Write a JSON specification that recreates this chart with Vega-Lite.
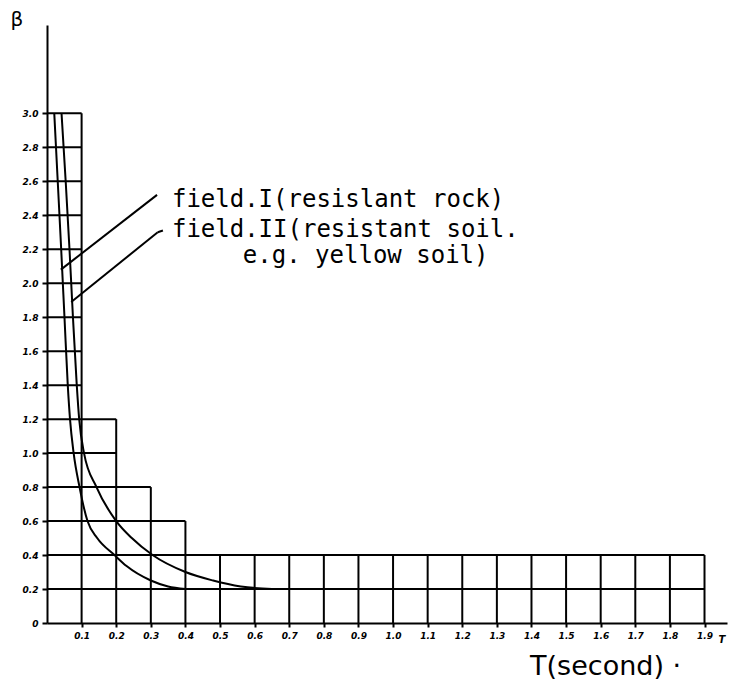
{
  "$schema": "https://vega.github.io/schema/vega-lite/v6.json",
  "width": 680,
  "height": 598,
  "autosize": {"type": "none"},
  "padding": {"left": 47, "top": 25, "right": 6, "bottom": 57},
  "background": "white",
  "config": {"view": {"stroke": null}, "axis": {"labelOverlap": false, "labelBound": false, "labelFlush": false, "title": null}},
  "datasets": {
    "vlines": [
      {"x": 0.1, "top": 3.0}, {"x": 0.2, "top": 1.2}, {"x": 0.3, "top": 0.8}, {"x": 0.4, "top": 0.6},
      {"x": 0.5, "top": 0.4}, {"x": 0.6, "top": 0.4}, {"x": 0.7, "top": 0.4}, {"x": 0.8, "top": 0.4},
      {"x": 0.9, "top": 0.4}, {"x": 1.0, "top": 0.4}, {"x": 1.1, "top": 0.4}, {"x": 1.2, "top": 0.4},
      {"x": 1.3, "top": 0.4}, {"x": 1.4, "top": 0.4}, {"x": 1.5, "top": 0.4}, {"x": 1.6, "top": 0.4},
      {"x": 1.7, "top": 0.4}, {"x": 1.8, "top": 0.4}, {"x": 1.9, "top": 0.4}
    ],
    "hlines": [
      {"y": 0.2, "xend": 1.9}, {"y": 0.4, "xend": 1.9}, {"y": 0.6, "xend": 0.4}, {"y": 0.8, "xend": 0.3},
      {"y": 1.0, "xend": 0.2}, {"y": 1.2, "xend": 0.2}, {"y": 1.4, "xend": 0.1}, {"y": 1.6, "xend": 0.1},
      {"y": 1.8, "xend": 0.1}, {"y": 2.0, "xend": 0.1}, {"y": 2.2, "xend": 0.1}, {"y": 2.4, "xend": 0.1},
      {"y": 2.6, "xend": 0.1}, {"y": 2.8, "xend": 0.1}, {"y": 3.0, "xend": 0.1}
    ],
    "curves": [
      {"field": "I", "x": 0.021, "y": 3.0}, {"field": "I", "x": 0.031, "y": 2.6}, {"field": "I", "x": 0.041, "y": 2.2},
      {"field": "I", "x": 0.0505, "y": 1.8}, {"field": "I", "x": 0.06, "y": 1.4}, {"field": "I", "x": 0.0665, "y": 1.2},
      {"field": "I", "x": 0.077, "y": 1.0}, {"field": "I", "x": 0.094, "y": 0.8}, {"field": "I", "x": 0.117, "y": 0.6},
      {"field": "I", "x": 0.145, "y": 0.5}, {"field": "I", "x": 0.195, "y": 0.4}, {"field": "I", "x": 0.23, "y": 0.335},
      {"field": "I", "x": 0.3, "y": 0.25}, {"field": "I", "x": 0.35, "y": 0.215}, {"field": "I", "x": 0.4, "y": 0.2},
      {"field": "II", "x": 0.042, "y": 3.0}, {"field": "II", "x": 0.054, "y": 2.6}, {"field": "II", "x": 0.065, "y": 2.2},
      {"field": "II", "x": 0.075, "y": 1.8}, {"field": "II", "x": 0.086, "y": 1.4}, {"field": "II", "x": 0.093, "y": 1.2},
      {"field": "II", "x": 0.107, "y": 1.0}, {"field": "II", "x": 0.143, "y": 0.8}, {"field": "II", "x": 0.2, "y": 0.6},
      {"field": "II", "x": 0.245, "y": 0.5}, {"field": "II", "x": 0.305, "y": 0.4}, {"field": "II", "x": 0.4, "y": 0.3},
      {"field": "II", "x": 0.48, "y": 0.25}, {"field": "II", "x": 0.56, "y": 0.215}, {"field": "II", "x": 0.65, "y": 0.2}
    ],
    "leaders": [
      {"x": 0.318, "y": 2.52, "x2": 0.04, "y2": 2.08},
      {"x": 0.335, "y": 2.31, "x2": 0.32, "y2": 2.3},
      {"x": 0.32, "y": 2.3, "x2": 0.07, "y2": 1.89}
    ],
    "notes": [
      {"x": 0.361, "y": 2.447, "label": "field.I(resislant rock)"},
      {"x": 0.361, "y": 2.27, "label": "field.II(resistant soil."},
      {"x": 0.566, "y": 2.118, "label": "e.g. yellow soil)"}
    ],
    "titles": [
      {"x": 1.396, "y": -0.306, "label": "T(second) ·"}
    ],
    "beta": [
      {"x": -0.087, "y": 3.55, "label": "β"}
    ],
    "tlabel": [
      {"x": 1.95, "y": -0.1, "label": "T"}
    ]
  },
  "layer": [
    {
      "data": {"name": "vlines"},
      "mark": {"type": "rule", "color": "black", "strokeWidth": 2},
      "encoding": {
        "x": {
          "field": "x", "type": "quantitative",
          "scale": {"domain": [0, 1.965], "nice": false, "zero": false},
          "axis": {
            "title": null, "grid": false, "tickCount": 40,
            "values": [0.1, 0.2, 0.3, 0.4, 0.5, 0.6, 0.7, 0.8, 0.9, 1.0, 1.1, 1.2, 1.3, 1.4, 1.5, 1.6, 1.7, 1.8, 1.9],
            "format": ".1f", "labelOverlap": false,
            "domainColor": "black", "domainWidth": 2,
            "tickColor": "black", "tickWidth": 2, "tickSize": 4,
            "labelFont": "DejaVu Sans", "labelFontSize": 9, "labelFontWeight": "bold", "labelFontStyle": "italic",
            "labelColor": "black", "labelPadding": 4
          }
        },
        "y": {
          "field": "top", "type": "quantitative",
          "scale": {"domain": [0, 3.52], "nice": false, "zero": false},
          "axis": {
            "title": null, "grid": false, "tickCount": 40,
            "values": [0, 0.2, 0.4, 0.6, 0.8, 1.0, 1.2, 1.4, 1.6, 1.8, 2.0, 2.2, 2.4, 2.6, 2.8, 3.0],
            "labelExpr": "datum.value == 0 ? '0' : format(datum.value, '.1f')",
            "labelOverlap": false,
            "domainColor": "black", "domainWidth": 2,
            "tickColor": "black", "tickWidth": 2, "tickSize": 5,
            "labelFont": "DejaVu Sans", "labelFontSize": 9, "labelFontWeight": "bold", "labelFontStyle": "italic",
            "labelColor": "black", "labelPadding": 4
          }
        },
        "y2": {"datum": 0}
      }
    },
    {
      "data": {"name": "hlines"},
      "mark": {"type": "rule", "color": "black", "strokeWidth": 2},
      "encoding": {
        "x": {"field": "xend", "type": "quantitative"},
        "x2": {"datum": 0},
        "y": {"field": "y", "type": "quantitative"}
      }
    },
    {
      "data": {"name": "curves"},
      "mark": {"type": "line", "color": "black", "strokeWidth": 2, "interpolate": "monotone"},
      "encoding": {
        "x": {"field": "x", "type": "quantitative"},
        "y": {"field": "y", "type": "quantitative"},
        "detail": {"field": "field", "type": "nominal"},
        "order": {"field": "x", "type": "quantitative"}
      }
    },
    {
      "data": {"name": "leaders"},
      "mark": {"type": "rule", "color": "black", "strokeWidth": 2},
      "encoding": {
        "x": {"field": "x", "type": "quantitative"},
        "y": {"field": "y", "type": "quantitative"},
        "x2": {"field": "x2"},
        "y2": {"field": "y2"}
      }
    },
    {
      "data": {"name": "notes"},
      "mark": {"type": "text", "font": "DejaVu Sans Mono", "fontSize": 24, "align": "left", "baseline": "alphabetic", "color": "black"},
      "encoding": {
        "x": {"field": "x", "type": "quantitative"},
        "y": {"field": "y", "type": "quantitative"},
        "text": {"field": "label", "type": "nominal"}
      }
    },
    {
      "data": {"name": "titles"},
      "mark": {"type": "text", "font": "DejaVu Sans", "fontSize": 27, "align": "left", "baseline": "alphabetic", "color": "black"},
      "encoding": {
        "x": {"field": "x", "type": "quantitative"},
        "y": {"field": "y", "type": "quantitative"},
        "text": {"field": "label", "type": "nominal"}
      }
    },
    {
      "data": {"name": "beta"},
      "mark": {"type": "text", "font": "DejaVu Sans", "fontSize": 20, "align": "center", "baseline": "middle", "color": "black"},
      "encoding": {
        "x": {"field": "x", "type": "quantitative"},
        "y": {"field": "y", "type": "quantitative"},
        "text": {"field": "label", "type": "nominal"}
      }
    },
    {
      "data": {"name": "tlabel"},
      "mark": {"type": "text", "font": "DejaVu Sans", "fontSize": 10, "fontWeight": "bold", "fontStyle": "italic", "align": "center", "baseline": "middle", "color": "black"},
      "encoding": {
        "x": {"field": "x", "type": "quantitative"},
        "y": {"field": "y", "type": "quantitative"},
        "text": {"field": "label", "type": "nominal"}
      }
    }
  ]
}
